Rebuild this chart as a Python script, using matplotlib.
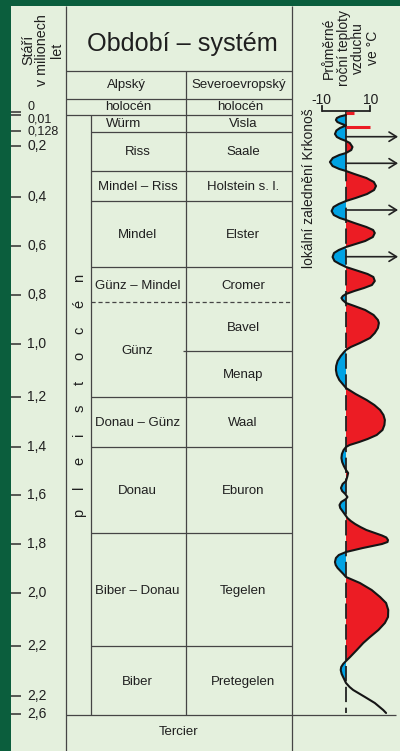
#!/usr/bin/env python3
"""
Quaternary stratigraphy chart: Alpine / North-European stages with mean annual temperature curve
"""

import numpy as np
import matplotlib.pyplot as plt
from matplotlib.patches import Rectangle

plt.rcParams['font.family'] = ['Liberation Sans', 'DejaVu Sans']
plt.rcParams['lines.scale_dashes'] = False

# ---- data -------------------------------------------------------------
# left age scale (labels as printed), rows are in the chart's vertical units
age_labels = ['0', '0,01', '0,128', '0,2', '0,4', '0,6', '0,8', '1,0', '1,2',
              '1,4', '1,6', '1,8', '2,0', '2,2', '2,2', '2,6']
age_rows = [111.7, 115, 131, 146, 197, 246, 295, 344, 397,
            447, 495, 544, 593, 646, 696, 714]
age_label_rows = [106.5, 119, 131.5, 146, 197, 246, 295, 344, 397,
                  447, 495, 544, 593, 646, 696, 714]

alpine_stages = ['Würm', 'Riss', 'Mindel – Riss', 'Mindel', 'Günz – Mindel', 'Günz',
                 'Donau – Günz', 'Donau', 'Biber – Donau', 'Biber']
alpine_bounds = [115, 131.5, 171, 200.7, 267, 302, 396.7, 446.7, 532.7, 646, 715]

north_stages = ['Visla', 'Saale', 'Holstein s. l.', 'Elster', 'Cromer', 'Bavel', 'Menap',
                'Waal', 'Eburon', 'Tegelen', 'Pretegelen']
north_bounds = [115, 131.5, 171, 200.7, 267, 302, 351, 396.7, 446.7, 532.7, 646, 715]

age_title = ['Stáří', 'v milionech', 'let']
temp_title = 'Průměrné\nroční teploty\nvzduchu\nve °C'

# mean annual air temperature curve (deg C) against chart rows
curve_rows = [115, 116.5, 118, 120, 122, 123.5, 125.5,
              128, 130.5, 134, 137, 139, 141,
              143, 147, 150, 153,
              155, 158, 162, 166, 169, 171,
              174, 178, 182, 186, 190, 194, 198, 201,
              204, 207, 211, 215, 218, 220,
              223, 227, 230, 233, 237, 241, 244, 247,
              250, 253, 257, 261, 264, 267,
              270, 274, 277, 281, 285, 288, 291, 294,
              296, 298, 300, 303,
              306, 310, 315, 320, 323, 328, 333, 338, 343, 347, 350,
              352, 356, 361, 366, 370, 375, 380, 384, 388,
              394, 400, 405, 410, 415, 420, 425, 430, 435, 439, 442, 445, 447,
              450, 454, 458, 462, 466, 470,
              473, 477, 481,
              484, 488, 491, 494,
              497, 499,
              502, 505, 508, 512, 516,
              518, 521, 524, 527, 530, 533, 535.5, 537.5, 540, 542, 544, 546, 548, 550, 552,
              555, 558, 562, 565, 568, 571, 574, 577,
              583, 590, 597, 603, 610, 617, 623, 630, 637, 643, 650, 657, 661,
              664, 667, 670, 674, 678, 683,
              687, 690, 697, 703, 710, 713]
curve_temp = [0, -2.5, -3.8, -4.2, -3.6, -2.2, 0,
              -2.5, -4, -4.6, -3.8, -2.2, 0,
              1.6, 2.7, 2.2, 0,
              -2.8, -5.5, -6.7, -5.6, -2.8, 0,
              3.5, 8.5, 11.6, 12.5, 11.7, 8.8, 4, 0,
              -3, -5.2, -6, -5.1, -2.6, 0,
              3.5, 8.5, 11.3, 12, 11.2, 8, 4, 0,
              -3, -5, -5.6, -4.8, -2.6, 0,
              3.8, 9, 11.4, 12, 10.8, 7.5, 3.5, 0,
              -1.3, -1.9, -1.4, 0,
              3.5, 8, 11.5, 13.3, 13.7, 13.3, 12, 10, 5.8, 2, 0,
              -0.8, -2.2, -3.5, -4.1, -4.2, -3.8, -2.8, -1.4, 0,
              4, 8.6, 11.8, 14.2, 15.6, 16.2, 16, 15.2, 12.8, 9, 5.5, 1.5, 0,
              -1, -1.7, -1.9, -1.6, -0.9, 0,
              0.9, 0.5, 0,
              -1.4, -2.1, -1.6, -0.3,
              0.6, 0,
              -2, -2.7, -2.4, -1.2, 0,
              0.6, 2, 3.8, 6, 8.5, 12, 15, 16.8, 17.5, 17.3, 15, 11, 7, 3.5, 0,
              -3, -4.2, -4.6, -4.3, -3.5, -2.3, -1.1, 0,
              5.8, 10.7, 14.2, 16.7, 17.6, 17.5, 16.2, 13.5, 10, 7.2, 4.5, 1.7, 0,
              -1.2, -2, -2.2, -1.8, -1, 0,
              1.5, 3, 7.9, 12, 15.5, 16.7]
fill_until = 683

# holocene warm spells (red bars) and local Krkonose glaciations (arrows)
holocene_rows = [113.3, 126.7]
holocene_temp = [3.4, 10]
glaciation_rows = [136.7, 163.3, 210, 256.7]

RED = '#ec1c24'
BLUE = '#00a3e4'
LINE = '#454545'
TXT = '#1f1f1f'
PANEL = '#e4f0dd'
FRAME = '#0b5e3d'


def hline(ax, y, x0, x1, **kw):
    kw.setdefault('color', LINE)
    kw.setdefault('lw', 0.9)
    ax.plot([x0, x1], [y, y], solid_capstyle='butt', **kw)


def vline(ax, x, y0, y1, **kw):
    kw.setdefault('color', LINE)
    kw.setdefault('lw', 0.9)
    ax.plot([x, x], [y0, y1], solid_capstyle='butt', **kw)


def create_figure():
    fig = plt.figure(figsize=(4, 7.51), dpi=100, facecolor=FRAME)
    ax = fig.add_axes([0, 0, 1, 1])
    ax.set_xlim(0, 400)
    ax.set_ylim(751, 0)
    ax.axis('off')
    ax.add_patch(Rectangle((11, 6), 389, 745, facecolor=PANEL, edgecolor='none', zorder=0))

    # frame lines of the table
    vline(ax, 66, 6, 751)
    vline(ax, 292, 6, 751)
    vline(ax, 186, 71, 715)
    vline(ax, 91, 115, 715)
    for y in [71, 99, 115]:
        hline(ax, y, 66, 292)
    hline(ax, 715, 66, 396)

    # headers
    ax.text(182, 44, 'Období – systém', fontsize=18.2, ha='center', va='center', color=TXT)
    ax.text(126, 85, 'Alpský', fontsize=9.5, ha='center', va='center', color=TXT)
    ax.text(239, 85, 'Severoevropský', fontsize=9.5, ha='center', va='center', color=TXT)
    ax.text(128, 107, 'holocén', fontsize=9.5, ha='center', va='center', color=TXT)
    ax.text(240, 107, 'holocén', fontsize=9.5, ha='center', va='center', color=TXT)
    ax.text(179, 732, 'Tercier', fontsize=9.5, ha='center', va='center', color=TXT)
    for line, x in zip(age_title, [28.5, 42.5, 56.5]):
        ax.text(x, 50, line, fontsize=10.3, rotation=90, ha='center', va='center', color=TXT)

    # alpine column
    for y in alpine_bounds[1:-1]:
        if y == 302:
            hline(ax, y, 91, 292, ls=(0, (3, 2)))
        else:
            hline(ax, y, 91, 186)
    for i, name in enumerate(alpine_stages):
        yc = (alpine_bounds[i] + alpine_bounds[i + 1]) / 2 + 1.2
        xc = 124 if name == 'Würm' else 137.5
        ax.text(xc, yc, name, fontsize=9.5, ha='center', va='center', color=TXT)

    # north-european column
    for y in north_bounds[1:-1]:
        if y == 302:
            continue
        x0 = 183 if y == 351 else 186
        hline(ax, y, x0, 292)
    for i, name in enumerate(north_stages):
        yc = (north_bounds[i] + north_bounds[i + 1]) / 2 + 1.2
        ax.text(243, yc, name, fontsize=9.5, ha='center', va='center', color=TXT)

    # pleistocene, spaced letters
    letters = list('pleistocén')
    for letter, y in zip(letters, np.linspace(513, 278, len(letters))):
        ax.text(79.5, y, letter, fontsize=10.5, rotation=90, ha='center', va='center', color=TXT)

    # age scale (the three crowded labels at the top a bit smaller)
    for y in age_rows:
        hline(ax, y, 11, 21, color='#2e2e2e', lw=1.1)
    for i, (lab, y) in enumerate(zip(age_labels, age_label_rows)):
        ax.text(27, y, lab, fontsize=9 if i < 3 else 10, ha='left', va='center', color=TXT)

    # temperature panel, x in deg C
    ax2 = fig.add_axes([292 / 400, 0, 108 / 400, 1])
    ax2.set_xlim(-22.5, 22.5)
    ax2.set_ylim(751, 0)
    ax2.axis('off')
    ax2.patch.set_alpha(0)

    ax2.text(2, 48, temp_title, fontsize=10, rotation=90,
             ha='center', va='center', multialignment='center', linespacing=1.05, color=TXT)
    ax2.text(-15.3, 188, 'lokální zalednění Krkonoš', fontsize=10, rotation=90,
             ha='center', va='center', color=TXT)

    # temperature scale
    ax2.plot([-10, 10], [111, 111], color='#222', lw=1.3, solid_capstyle='butt')
    for t in [-10, 10]:
        ax2.plot([t, t], [106, 111], color='#222', lw=1.3)
    ax2.text(-10.2, 99.5, '-10', fontsize=10, ha='center', va='center', color=TXT)
    ax2.text(10.2, 99.5, '10', fontsize=10, ha='center', va='center', color=TXT)

    rows = np.array(curve_rows)
    temp = np.array(curve_temp)
    m = rows <= fill_until
    ax2.fill_betweenx(rows[m], 0, temp[m], where=temp[m] >= 0, interpolate=True,
                      color=RED, lw=0, zorder=2)
    ax2.fill_betweenx(rows[m], 0, temp[m], where=temp[m] <= 0, interpolate=True,
                      color=BLUE, lw=0, zorder=2)

    # zero axis: solid at top, dashed further down
    ax2.plot([0, 0], [111, 166], color='#222', lw=1.3, zorder=3)
    ax2.plot([0, 0], [166, 713], color='#222', lw=1.3, dashes=(11, 4), zorder=3)

    ax2.plot(temp, rows, color='#151515', lw=1.5, zorder=4,
             solid_joinstyle='round', solid_capstyle='round')

    for y, t in zip(holocene_rows, holocene_temp):
        ax2.plot([0, t], [y, y], color=RED, lw=2.2, solid_capstyle='butt', zorder=3)

    for y in glaciation_rows:
        ax2.annotate('', xy=(21.7, y), xytext=(0, y),
                     arrowprops=dict(arrowstyle='->,head_length=0.45,head_width=0.28',
                                     color='#222', lw=1.2, mutation_scale=12,
                                     shrinkA=0, shrinkB=0), zorder=5)
    return fig


def main():
    fig = create_figure()
    fig.savefig('out.png', dpi=100, facecolor=fig.get_facecolor())


if __name__ == "__main__":
    main()
